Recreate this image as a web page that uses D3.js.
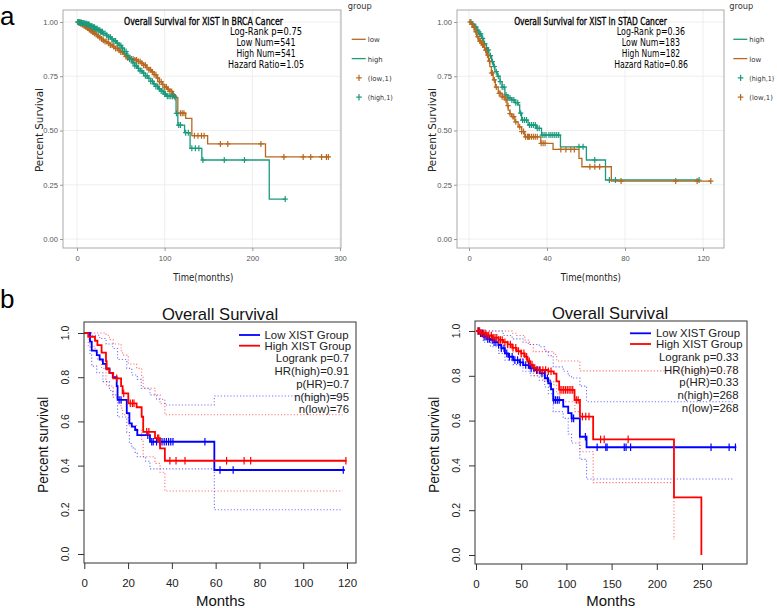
<!DOCTYPE html>
<html><head><meta charset="utf-8">
<script src="https://cdn.jsdelivr.net/npm/d3@7"></script>
<style>body{margin:0;background:#fff}svg{display:block}</style>
</head><body>
<svg id="c" width="777" height="608"></svg>
<script>
// ---------------- DATA ----------------
// Panel a (left): BRCA
const brcaXTicks = [0, 100, 200, 300];
const stadXTicks = [0, 40, 80, 120];
const aYTicks = [0, 0.25, 0.5, 0.75, 1];
const aYLabels = ["0.00", "0.25", "0.50", "0.75", "1.00"];
const brcaTitle = "Overall Survival for XIST in BRCA Cancer";
const stadTitle = "Overall Survival for XIST in STAD Cancer";
const brcaStats = ["Log-Rank p=0.75", "Low Num=541", "High Num=541", "Hazard Ratio=1.05"];
const stadStats = ["Log-Rank p=0.36", "Low Num=183", "High Num=182", "Hazard Ratio=0.86"];

const brcaLowSteps = [[0,1],[2,0.997],[4,0.993],[6,0.988],[8,0.983],[10,0.978],[12,0.972],[14,0.966],[16,0.96],[18,0.954],[20,0.948],[22,0.942],[24,0.935],[26,0.929],[28,0.922],[30,0.916],[32,0.91],[35,0.902],[38,0.894],[41,0.886],[44,0.878],[47,0.87],[50,0.862],[53,0.853],[56,0.84],[58,0.834],[62,0.83],[66,0.825],[70,0.818],[73,0.81],[76,0.801],[79,0.79],[82,0.78],[85,0.77],[88,0.757],[91,0.742],[94,0.725],[97,0.712],[100,0.7],[103,0.69],[106,0.68],[109,0.665],[112,0.652],[115,0.58],[124,0.556],[131,0.476],[149,0.438],[215,0.378]];
const brcaLowEnd = 288;
const brcaLowCens = [1,2,3,4,5,6,7,8,9,10,11,12,13,14,15,16,17,18,19,20,22,24,26,28,30,32,34,36,38,40,42,44,46,48,50,52,54,56,58,60,62,64,66,68,70,72,74,76,78,80,82,84,86,88,90,92,94,96,98,100,102,104,106,108,110,112,118,120,122,134,138,142,145,163.6,172,209.8,236,258,266.6,279,284.5,286.7];
const brcaHighSteps = [[0,1],[3,0.998],[6,0.995],[9,0.992],[12,0.988],[15,0.982],[18,0.976],[21,0.969],[24,0.962],[27,0.955],[30,0.947],[33,0.939],[36,0.931],[39,0.922],[42,0.913],[45,0.903],[48,0.892],[51,0.88],[54,0.864],[57,0.846],[60,0.828],[63,0.812],[66,0.798],[69,0.786],[72,0.775],[75,0.764],[78,0.752],[81,0.74],[84,0.727],[87,0.715],[90,0.703],[93,0.692],[96,0.682],[99,0.668],[102,0.658],[113,0.579],[115,0.525],[122.7,0.49],[129,0.418],[142.4,0.364],[219.3,0.184]];
const brcaHighEnd = 237.5;
const brcaHighCens = [1,2,3,4,5,6,7,8,9,10,11,12,13,14,15,16,17,18,19,20,21,22,23,24,25,26,27,28,29,30,32,34,36,38,40,42,44,46,48,50,52,54,56,58,60,62,64,66,68,70,72,74,76,78,80,82,84,86,88,90,92,94,96,98,100,101,103,105,107,109,111,113.5,116,118,124,127,131,135,139,143.6,168,191,237.5];

// Panel a (right): STAD
const stadHighSteps = [[0,1],[1.3,0.99],[2.5,0.978],[4,0.963],[5,0.945],[6.5,0.925],[7.5,0.9],[9,0.871],[10.2,0.845],[11.6,0.817],[12.5,0.795],[13.3,0.771],[14.5,0.75],[15.9,0.725],[17,0.7],[18.4,0.664],[20,0.65],[21.8,0.641],[23.5,0.628],[25.2,0.618],[26,0.58],[27,0.548],[30.3,0.525],[34.6,0.51],[37.2,0.479],[46.9,0.425],[60.2,0.364],[70,0.272]];
const stadHighEnd = 118;
const stadHighCens = [1,2,3,3.5,4.5,5.5,6,7,8,9.5,10,11,12,13,14,15,16,17,18,19,20,21,22,23,24,25,26.5,27.5,28.5,29.5,31,32,33,34,35,36,37.5,38.5,39.5,41,42,43,44,45,46,56.4,58.5,64.5,72,75.1,118];
const stadLowSteps = [[0,1],[1,0.99],[2,0.975],[3,0.955],[3.9,0.932],[5,0.912],[6.5,0.894],[8,0.87],[9,0.848],[10,0.82],[10.7,0.794],[11.5,0.765],[12.4,0.733],[13.5,0.7],[15,0.671],[17,0.655],[18.4,0.641],[19.5,0.615],[20.1,0.594],[21,0.578],[21.8,0.564],[23.5,0.54],[25.2,0.517],[27,0.495],[28.6,0.471],[36.8,0.441],[43.1,0.413],[56.4,0.372],[57.9,0.333],[73,0.267]];
const stadLowEnd = 124;
const stadLowCens = [0.5,1.5,2.5,3.5,4.5,5.5,6,7,7.5,8.5,9.5,10.5,11.5,12,13,14,15.5,16,17,18,19,20,21,22.5,23,24,26,27,28,29,30,30.5,31,32,33,34,35,37,38,39,47.1,49.7,52.2,54,62,64.5,67,78,106,117,124];

// Panel b
const bTitle = "Overall Survival";
const bLegend = ["Low XIST Group", "High XIST Group"];
const bYTicks = [0, 0.2, 0.4, 0.6, 0.8, 1.0];
const bYLabels = ["0.0", "0.2", "0.4", "0.6", "0.8", "1.0"];
const bLeftXTicks = [0, 20, 40, 60, 80, 100, 120];
const bRightXTicks = [0, 50, 100, 150, 200, 250];
const bLeftStats = ["Logrank p=0.7", "HR(high)=0.91", "p(HR)=0.7", "n(high)=95", "n(low)=76"];
const bRightStats = ["Logrank p=0.33", "HR(high)=0.78", "p(HR)=0.33", "n(high)=268", "n(low)=268"];

// b left
const bLLowSteps = [[0,1],[2.6,0.961],[3.4,0.92],[5.7,0.9],[7,0.88],[8.5,0.86],[10,0.84],[11.5,0.82],[13,0.8],[14.8,0.76],[15.2,0.697],[19.4,0.637],[20.6,0.591],[21.7,0.576],[23.2,0.561],[24.2,0.538],[30,0.508],[59.4,0.38]];
const bLLowEnd = 119;
const bLLowCens = [15.9,16.8,29,30.8,31.5,33,34.5,35.5,36.5,37.5,38.5,39.5,40.5,55.1,62,68,118.3];
const bLLowUpper = [[0,1],[3.4,0.99],[7,0.975],[10,0.95],[13,0.93],[15.2,0.88],[19.4,0.84],[21.7,0.81],[24.2,0.79],[26,0.75],[30,0.72],[33,0.7],[36.8,0.674],[59.4,0.715]];
const bLLowLower = [[0,1],[2.6,0.9],[3.4,0.85],[5.7,0.82],[8.5,0.78],[11.5,0.74],[13,0.72],[15.2,0.62],[19.4,0.55],[20.6,0.5],[21.7,0.48],[23.2,0.46],[24.2,0.44],[28,0.42],[30,0.385],[59.4,0.2]];
const bLBandEnd = 118;
const bLHighSteps = [[0,1],[1.8,0.983],[4.9,0.965],[6,0.945],[7.9,0.911],[9.9,0.873],[10.2,0.836],[11.5,0.82],[13.2,0.795],[16.8,0.76],[17.5,0.727],[20.1,0.682],[23.9,0.664],[26.2,0.621],[26.9,0.553],[32.3,0.524],[34.6,0.478],[36.8,0.422]];
const bLHighEnd = 119.8;
const bLHighCens = [14.8,18,21,22,22.7,28.5,29.5,33.5,34,39.1,41.9,46,65,73,76,119.5];
const bLHighUpper = [[0,1],[9.9,0.99],[11.5,0.97],[13.2,0.95],[16.8,0.92],[17.5,0.9],[20.1,0.86],[23.9,0.84],[26.2,0.8],[26.9,0.75],[32.3,0.72],[34.6,0.68],[36.8,0.63]];
const bLHighLower = [[0,1],[1.8,0.94],[4.9,0.91],[6,0.88],[7.9,0.84],[9.9,0.79],[10.2,0.76],[13.2,0.71],[16.8,0.66],[17.5,0.63],[20.1,0.58],[23.9,0.56],[26.2,0.51],[26.9,0.44],[32.3,0.41],[34.6,0.37],[36.8,0.285]];

// b right
const bRLowSteps = [[0,1],[4,0.99],[8,0.975],[12,0.965],[16,0.96],[20,0.95],[24.7,0.9375],[28,0.923],[32,0.9],[35.7,0.885],[41.2,0.87],[48,0.86],[52.3,0.848],[59.7,0.833],[65,0.825],[70.7,0.811],[76.2,0.789],[79.9,0.766],[83,0.74],[85.4,0.692],[96.5,0.662],[102,0.633],[105.7,0.61],[114.9,0.528],[122.3,0.481]];
const bRLowEnd = 288;
const bRLowCens = [3,5,7,9,11,13,15,18,20,22,25,28,31,34,37,40,43,46,49,52,55,58,61,64,67,70,73,76,79,82,86,88,90,92,106,108,121,134,143.6,145,164,166,171,260,280,287];
const bRLowUpper = [[0,1],[30,0.98],[40,0.965],[52,0.95],[60,0.94],[70,0.93],[76,0.91],[80,0.89],[85.4,0.84],[96.5,0.82],[102,0.8],[105.7,0.79],[114.9,0.754],[122.3,0.684]];
const bRLowLower = [[0,1],[8,0.95],[16,0.93],[25,0.9],[32,0.87],[41,0.85],[52,0.82],[60,0.8],[70,0.78],[76,0.75],[80,0.72],[85.4,0.64],[96.5,0.61],[102,0.54],[105.7,0.5],[114.9,0.427],[122.3,0.339]];
const bRLowBandEnd = 284;
const bRHighSteps = [[0,1],[5,0.99],[12,0.98],[18,0.97],[25,0.96],[30,0.95],[35,0.94],[40,0.925],[45,0.91],[50,0.9],[54,0.885],[57,0.865],[60,0.85],[63,0.835],[68,0.826],[80,0.82],[86,0.81],[89,0.775],[92,0.737],[109,0.692],[115,0.618],[129.6,0.516],[219,0.257],[249.3,0]];
const bRHighEnd = 249.3;
const bRHighCens = [2,4,6,8,10,12,14,17,19,21,23,25,27,29,32,35,38,41,44,47,50,53,56,59,62,65,68,71,74,77,80,83,93,95,97,99,101,103,105,107,111,113,117.7,121.4,125,137.8,141.8,168.3];
const bRHighUpper = [[0,1],[40,0.99],[45,0.98],[54,0.96],[57.8,0.94],[63.4,0.908],[86,0.895],[89.2,0.866],[114.9,0.822]];
const bRHighUpperEnd = 288;
const bRHighLower = [[0,1],[10,0.975],[20,0.955],[30,0.93],[40,0.905],[50,0.875],[57.8,0.84],[63.4,0.8],[75,0.775],[86,0.76],[89.2,0.72],[92.8,0.684],[109.4,0.64],[114.9,0.461],[129.6,0.323],[219,0.067]];
const bRHighLowerEnd = 219;

// ---------------- DRAWING ----------------
const svg = d3.select("#c");
const SANS = "Liberation Sans, Arial, sans-serif";
const TAH = "DejaVu Sans, Verdana, sans-serif";
const BROWN = "#b8681f", GREEN = "#1b9a7c";

function txt(g, x, y, s, o = {}) {
  const t = g.append("text").attr("x", x).attr("y", y).text(s)
    .attr("font-family", o.font || SANS)
    .attr("font-size", o.size || 10)
    .attr("fill", o.color || "#000")
    .attr("text-anchor", o.anchor || "start");
  if (o.weight) t.attr("font-weight", o.weight);
  if (o.stroke) t.attr("stroke", o.color || "#000").attr("stroke-width", o.stroke);
  if (o.len) t.attr("textLength", o.len).attr("lengthAdjust", "spacingAndGlyphs");
  if (o.rot) t.attr("transform", `rotate(${o.rot},${x},${y})`);
  if (o.base) t.attr("dominant-baseline", o.base);
  return t;
}
function survAt(steps, t) {
  let s = steps[0][1];
  for (const [ti, si] of steps) { if (ti <= t) s = si; else break; }
  return s;
}
function kmPath(x, y, steps, end) {
  const pts = steps.concat([[end, steps[steps.length - 1][1]]]);
  return d3.line().x(d => x(d[0])).y(d => y(d[1])).curve(d3.curveStepAfter)(pts);
}

txt(svg, 0, 25, "a", {size: 26});
txt(svg, 0, 308, "b", {size: 26});

function panelA(o) {
  const g = svg.append("g");
  const x = d3.scaleLinear().domain([o.xTicks[0], o.xTicks[o.xTicks.length - 1]]).range(o.xRange);
  const y = d3.scaleLinear().domain([0, 1]).range([239, 22]);
  const [bx0, by0, bx1, by1] = o.box;
  g.selectAll(null).data(o.xTicks).join("line")
    .attr("x1", d => x(d)).attr("x2", d => x(d)).attr("y1", by0).attr("y2", by1)
    .attr("stroke", "#ececec").attr("stroke-width", 0.9);
  g.selectAll(null).data(aYTicks).join("line")
    .attr("x1", bx0).attr("x2", bx1).attr("y1", d => y(d)).attr("y2", d => y(d))
    .attr("stroke", "#ececec").attr("stroke-width", 0.9);
  g.append("rect").attr("x", bx0).attr("y", by0).attr("width", bx1 - bx0).attr("height", by1 - by0)
    .attr("fill", "none").attr("stroke", "#a9a9a9").attr("stroke-width", 1);
  const ax = g.append("g").attr("transform", `translate(0,${by1})`)
    .call(d3.axisBottom(x).tickValues(o.xTicks).tickSize(3).tickPadding(5));
  const ay = g.append("g").attr("transform", `translate(${bx0},0)`)
    .call(d3.axisLeft(y).tickValues(aYTicks).tickFormat((d, i) => aYLabels[i]).tickSize(3).tickPadding(2));
  [ax, ay].forEach(a => {
    a.select(".domain").remove();
    a.selectAll(".tick line").attr("stroke", "#999");
    a.selectAll(".tick text").attr("font-family", SANS).attr("font-size", 7.6).attr("fill", "#555");
  });
  txt(g, o.ylabX, 130, "Percent Survival", {font: TAH, size: 11, anchor: "middle", rot: -90, len: 84, color: "#222", base: "central"});
  txt(g, o.xlabX, 280.5, "Time(months)", {font: TAH, size: 11, anchor: "middle", len: 60, color: "#222"});
  txt(g, o.titleX, 24.5, o.title, {font: TAH, size: 10.5, anchor: "middle", len: o.titleLen, stroke: 0.35});
  o.stats.forEach((s, i) => txt(g, o.statX, 35 + i * 11.1, s, {font: TAH, size: 10.5, anchor: "middle", len: o.statLens[i]}));
  o.series.forEach(s => {
    g.append("path").attr("d", kmPath(x, y, s.steps, s.end)).attr("fill", "none")
      .attr("stroke", s.color).attr("stroke-width", 1.3);
    g.selectAll(null).data(s.cens).join("path")
      .attr("d", c => { const cx = x(c), cy = y(survAt(s.steps, c)); return `M${cx - 2.6},${cy}H${cx + 2.6}M${cx},${cy - 3}V${cy + 3}`; })
      .attr("stroke", s.color).attr("stroke-width", 1.2).attr("fill", "none");
  });
  // legend
  const L = o.leg;
  txt(g, L.x - 4, 9, "group", {font: TAH, size: 9.5, color: "#333", len: 24});
  o.legend.forEach((e, i) => {
    const ly = 39.3 + i * 19.3;
    if (i < 2) {
      g.append("line").attr("x1", L.x).attr("x2", L.x + 14).attr("y1", ly).attr("y2", ly)
        .attr("stroke", e.color).attr("stroke-width", 1.3);
    } else {
      const cx = L.x + 7.3;
      g.append("path").attr("d", `M${cx - 2.8},${ly}H${cx + 2.8}M${cx},${ly - 3.2}V${ly + 3.2}`)
        .attr("stroke", e.color).attr("stroke-width", 1.2);
    }
    txt(g, L.x + 16, ly + 3, e.label, {font: TAH, size: 7, color: "#333", len: e.len});
  });
}

panelA({
  xTicks: brcaXTicks, xRange: [77, 340], box: [63, 10, 341, 248],
  ylabX: 39, xlabX: 203.3, titleX: 203.5, title: brcaTitle, titleLen: 159,
  statX: 266, stats: brcaStats, statLens: [72, 59, 59, 76],
  series: [
    {steps: brcaLowSteps, end: brcaLowEnd, cens: brcaLowCens, color: BROWN},
    {steps: brcaHighSteps, end: brcaHighEnd, cens: brcaHighCens, color: GREEN}
  ],
  leg: {x: 351.7},
  legend: [
    {label: "low", color: BROWN, len: 12}, {label: "high", color: GREEN, len: 15},
    {label: "(low,1)", color: BROWN, len: 24}, {label: "(high,1)", color: GREEN, len: 25}
  ]
});
panelA({
  xTicks: stadXTicks, xRange: [469, 703], box: [457, 10, 724, 248],
  ylabX: 432.7, xlabX: 590.8, titleX: 590.5, title: stadTitle, titleLen: 152.7,
  statX: 651, stats: stadStats, statLens: [68.3, 58.3, 58.3, 73.7],
  series: [
    {steps: stadHighSteps, end: stadHighEnd, cens: stadHighCens, color: GREEN},
    {steps: stadLowSteps, end: stadLowEnd, cens: stadLowCens, color: BROWN}
  ],
  leg: {x: 733.3},
  legend: [
    {label: "high", color: GREEN, len: 15}, {label: "low", color: BROWN, len: 12},
    {label: "(high,1)", color: GREEN, len: 25}, {label: "(low,1)", color: BROWN, len: 23.5}
  ]
});

function panelB(o) {
  const g = svg.append("g");
  const x = d3.scaleLinear().domain([o.xTicks[0], o.xTicks[o.xTicks.length - 1]]).range(o.xRange);
  const y = d3.scaleLinear().domain([0, 1]).range(o.yRange);
  const [bx0, by0, bx1, by1] = o.box;
  o.bands.forEach(b => {
    g.append("path").attr("d", kmPath(x, y, b.steps, b.end)).attr("fill", "none")
      .attr("stroke", b.color).attr("stroke-opacity", 0.55).attr("stroke-width", 1.1)
      .attr("stroke-dasharray", "1.2,2");
  });
  o.series.forEach(s => {
    g.append("path").attr("d", kmPath(x, y, s.steps, s.end)).attr("fill", "none")
      .attr("stroke", s.color).attr("stroke-width", 1.8);
    g.selectAll(null).data(s.cens).join("line")
      .attr("x1", c => x(c)).attr("x2", c => x(c))
      .attr("y1", c => y(survAt(s.steps, c)) - 3.8).attr("y2", c => y(survAt(s.steps, c)) + 3.8)
      .attr("stroke", s.color).attr("stroke-width", 1.2);
  });
  g.append("rect").attr("x", bx0).attr("y", by0).attr("width", bx1 - bx0).attr("height", by1 - by0)
    .attr("fill", "none").attr("stroke", "#333").attr("stroke-width", 1);
  const ax = g.append("g").attr("transform", `translate(0,${by1})`)
    .call(d3.axisBottom(x).tickValues(o.xTicks).tickSize(6).tickPadding(9.5));
  const ay = g.append("g").attr("transform", `translate(${bx0},0)`)
    .call(d3.axisLeft(y).tickValues(bYTicks).tickFormat(() => "").tickSize(6));
  [ax, ay].forEach(a => {
    a.select(".domain").remove();
    a.selectAll(".tick line").attr("stroke", "#333");
    a.selectAll(".tick text").attr("font-family", SANS).attr("font-size", 11.5).attr("fill", "#222");
  });
  bYTicks.forEach((v, i) => txt(g, o.yLabX, y(v), bYLabels[i], {size: 10.5, anchor: "middle", rot: -90, base: "central", color: "#222"}));
  txt(g, o.cx, o.titleY, bTitle, {size: 16.6, anchor: "middle", color: "#111"});
  txt(g, o.pLabX, 444.7, "Percent survival", {size: 14, anchor: "middle", rot: -90, base: "central", len: 96, color: "#111"});
  txt(g, o.mX, 605.5, "Months", {size: 15, anchor: "middle", len: 49, color: "#111"});
  const L = o.leg;
  o.series.forEach((s, i) => {
    const ly = L.y0 + i * 10.7;
    g.append("line").attr("x1", L.lx0).attr("x2", L.lx1).attr("y1", ly).attr("y2", ly)
      .attr("stroke", s.color).attr("stroke-width", 1.8);
    txt(g, L.tx, ly + 4, bLegend[i], {size: 11.4, color: "#222"});
  });
  o.stats.forEach((s, i) => txt(g, L.rx, L.s0 + i * 12.7, s, {size: 11.4, anchor: "end", color: "#222"}));
}

panelB({
  xTicks: bLeftXTicks, xRange: [84.3, 347], yRange: [554, 333], box: [84, 322, 356, 563],
  yLabX: 65, cx: 220, titleY: 320, pLabX: 43.3, mX: 220.5,
  bands: [
    {steps: bLLowUpper, end: bLBandEnd, color: "#0000ff"}, {steps: bLLowLower, end: bLBandEnd, color: "#0000ff"},
    {steps: bLHighUpper, end: bLBandEnd, color: "#ff0000"}, {steps: bLHighLower, end: bLBandEnd, color: "#ff0000"}
  ],
  series: [
    {steps: bLLowSteps, end: bLLowEnd, cens: bLLowCens, color: "#0000ff"},
    {steps: bLHighSteps, end: bLHighEnd, cens: bLHighCens, color: "#ff0000"}
  ],
  stats: bLeftStats,
  leg: {y0: 335, lx0: 239, lx1: 260, tx: 264.5, rx: 349, s0: 362.4}
});
panelB({
  xTicks: bRightXTicks, xRange: [476, 702], yRange: [555, 331], box: [475, 321, 747, 564],
  yLabX: 456, cx: 610, titleY: 318.5, pLabX: 433.7, mX: 610.8,
  bands: [
    {steps: bRLowUpper, end: bRLowBandEnd, color: "#0000ff"}, {steps: bRLowLower, end: bRLowBandEnd, color: "#0000ff"},
    {steps: bRHighUpper, end: bRHighUpperEnd, color: "#ff0000"}, {steps: bRHighLower, end: bRHighLowerEnd, color: "#ff0000"}
  ],
  series: [
    {steps: bRLowSteps, end: bRLowEnd, cens: bRLowCens, color: "#0000ff"},
    {steps: bRHighSteps, end: bRHighEnd, cens: bRHighCens, color: "#ff0000"}
  ],
  stats: bRightStats,
  leg: {y0: 333.3, lx0: 630, lx1: 651, tx: 656, rx: 738.5, s0: 360.8}
});
</script>
</body></html>
